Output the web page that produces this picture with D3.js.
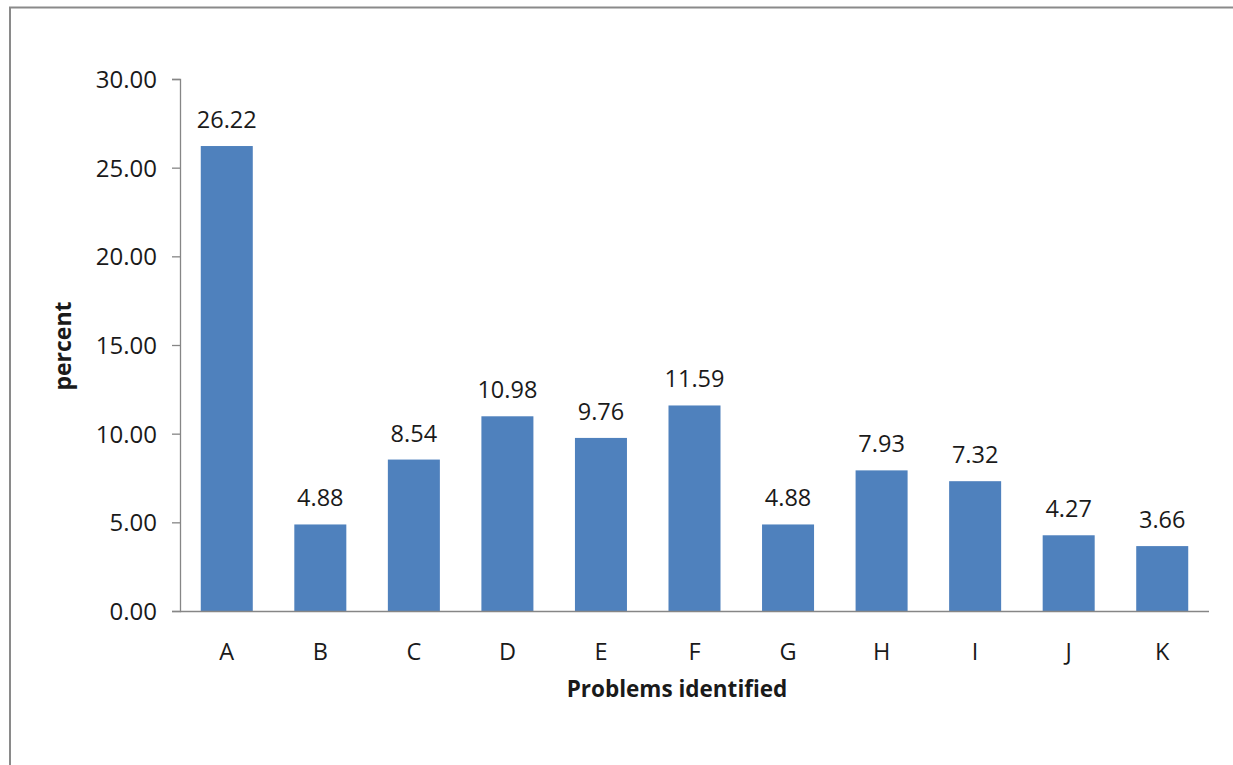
<!DOCTYPE html>
<html>
<head>
<meta charset="utf-8">
<script src="https://cdn.jsdelivr.net/npm/d3@7"></script>
<style>
  html, body { margin: 0; padding: 0; background: #fff; }
  svg { display: block; }
  text { font-family: "Open Sans", "Liberation Sans", sans-serif; fill: #1a1a1a; }
</style>
</head>
<body>
<svg id="chart" width="1233" height="765"></svg>
<script>
// Share of each problem identified (percent)
const categories = ["A", "B", "C", "D", "E", "F", "G", "H", "I", "J", "K"];
const percents = [26.22, 4.88, 8.54, 10.98, 9.76, 11.59, 4.88, 7.93, 7.32, 4.27, 3.66];
const yTicks = [0, 5, 10, 15, 20, 25, 30];

const svg = d3.select("#chart");

// outer frame (open on the right and bottom edges)
svg.append("path")
  .attr("d", "M10,766 L10,7.5 L1234,7.5")
  .attr("fill", "none")
  .attr("stroke", "#8a8a8a")
  .attr("stroke-width", 2);

const plot = { left: 180, right: 1209, top: 79, bottom: 611 };

const x = d3.scaleBand()
  .domain(categories)
  .range([plot.left, plot.right])
  .paddingInner(0.444)
  .paddingOuter(0.222);

const y = d3.scaleLinear()
  .domain([0, 30])
  .range([plot.bottom, plot.top]);

// bars
svg.append("g")
  .selectAll("rect")
  .data(percents)
  .join("rect")
  .attr("x", (d, i) => x(categories[i]))
  .attr("y", d => y(d))
  .attr("width", x.bandwidth())
  .attr("height", d => y(0) - y(d))
  .attr("fill", "#4f81bd");

// value labels above bars
svg.append("g")
  .selectAll("text")
  .data(percents)
  .join("text")
  .attr("x", (d, i) => x(categories[i]) + x.bandwidth() / 2)
  .attr("y", d => y(d) - 18)
  .attr("text-anchor", "middle")
  .attr("font-size", 23.5)
  .text(d => d.toFixed(2));

// y axis
const yAxis = d3.axisLeft(y)
  .tickValues(yTicks)
  .tickFormat(d3.format(".2f"))
  .tickSize(8)
  .tickPadding(15);

const gy = svg.append("g")
  .attr("transform", `translate(${plot.left},0)`)
  .call(yAxis);
gy.select(".domain").attr("stroke", "#868686").attr("stroke-width", 1.3);
gy.selectAll(".tick line").attr("stroke", "#868686").attr("stroke-width", 1.3);
gy.selectAll(".tick text")
  .attr("font-size", 24)
  .attr("font-family", "'Open Sans', sans-serif")
  .attr("fill", "#1a1a1a")
  .attr("dy", "0.36em");

// x axis (no tick marks)
const xAxis = d3.axisBottom(x).tickSize(0).tickPadding(32);
const gx = svg.append("g")
  .attr("transform", `translate(0,${plot.bottom})`)
  .call(xAxis);
gx.select(".domain")
  .attr("d", `M${plot.left},0.5H${plot.right}`)
  .attr("stroke", "#868686")
  .attr("stroke-width", 1.3);
gx.selectAll(".tick text")
  .attr("font-size", 23.5)
  .attr("font-family", "'Open Sans', sans-serif")
  .attr("fill", "#1a1a1a");

// axis titles
svg.append("text")
  .attr("x", 677)
  .attr("y", 697)
  .attr("text-anchor", "middle")
  .attr("font-size", 22.5)
  .attr("font-weight", "bold")
  .text("Problems identified");

svg.append("text")
  .attr("transform", "translate(71,346) rotate(-90)")
  .attr("text-anchor", "middle")
  .attr("font-size", 23)
  .attr("font-weight", "bold")
  .text("percent");
</script>
</body>
</html>
